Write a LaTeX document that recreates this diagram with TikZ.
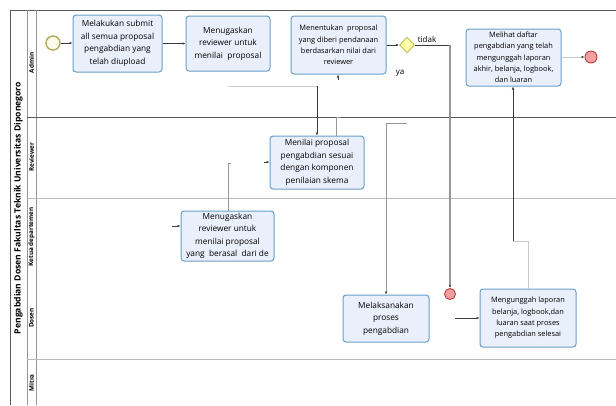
\documentclass[tikz,border=0pt]{standalone}
\usepackage{fontspec}
\setmainfont{Open Sans}
\usetikzlibrary{arrows.meta,shapes.geometric}
\definecolor{taskfill}{RGB}{234,239,252}
\definecolor{taskdraw}{RGB}{105,160,200}
\definecolor{poolline}{RGB}{90,90,90}
\definecolor{laneline}{RGB}{185,185,185}
\definecolor{conndark}{RGB}{60,60,60}
\definecolor{connmed}{RGB}{150,150,150}
\definecolor{connlight}{RGB}{200,200,200}
\definecolor{startdraw}{RGB}{175,170,95}
\definecolor{startfill}{RGB}{252,252,235}
\definecolor{gwfill}{RGB}{255,255,170}
\definecolor{gwdraw}{RGB}{195,190,90}
\definecolor{endfill}{RGB}{240,160,160}
\definecolor{enddraw}{RGB}{190,60,60}
\begin{document}
\begin{tikzpicture}[x=1pt,y=-1pt,
  taskbox/.style={draw=taskdraw, fill=taskfill, rounded corners=3pt, line width=1pt,
    align=center, inner sep=1pt, font=\fontsize{8.3}{12.5}\selectfont},
  smalltask/.style={taskbox, font=\fontsize{7.4}{11.3}\selectfont},
  conn/.style={draw=conndark, line width=0.6pt},
  medconn/.style={draw=connmed, line width=0.7pt},
  lightconn/.style={draw=connlight, line width=0.8pt},
  tip/.style={-{Latex[length=3pt,width=2.6pt,color=conndark]}},
  lanelabel/.style={rotate=90, font=\bfseries\fontsize{6.3}{7}\selectfont, inner sep=0pt},
  lbl/.style={font=\fontsize{8}{10}\selectfont, inner sep=0pt}
]
\useasboundingbox (0,0) rectangle (616,405);
% pool and lanes
\draw[poolline, line width=0.8pt] (616,10) -- (10,10) -- (10,405);
\draw[connmed, line width=0.7pt] (27,10) -- (27,405);
\draw[connmed, line width=0.7pt] (36,10) -- (36,405);
\draw[poolline, line width=0.7pt] (27,117) -- (616,117);
\draw[laneline, line width=0.9pt] (27,198) -- (616,198);
\draw[laneline, line width=0.9pt] (27,359) -- (616,359);
\node[rotate=90, font=\bfseries\fontsize{8.6}{10}\selectfont, inner sep=0pt] (title) at (18.5,208) {Pengabdian Dosen Fakultas Teknik Universitas Diponegoro};
\node[lanelabel] (lAdmin) at (31.5,63) {Admin};
\node[lanelabel] (lRev) at (31.5,157) {Reviewer};
\node[lanelabel] (lKetua) at (31.5,237) {Ketua departemen};
\node[lanelabel] (lDosen) at (31.5,318) {Dosen};
\node[lanelabel] (lMitra) at (31.5,383) {Mitra};
% events and gateway
\node[circle, draw=startdraw, fill=startfill, line width=1.4pt, minimum size=14pt, inner sep=0pt] (start) at (53,43) {};
\node[diamond, draw=gwdraw, fill=gwfill, line width=0.9pt, minimum width=15pt, minimum height=16pt, inner sep=0pt] (gw) at (407,45) {};
\node[circle, draw=enddraw, fill=endfill, line width=0.9pt, minimum size=12pt, inner sep=0pt] (end1) at (591,57) {};
\node[circle, draw=enddraw, fill=endfill, line width=0.9pt, minimum size=11pt, inner sep=0pt] (end2) at (450,294) {};
% tasks
\node[taskbox, minimum width=89pt, minimum height=57pt] (t1) at (117.5,43.5) {Melakukan submit\\all semua proposal\\pengabdian yang\\telah diupload};
\node[taskbox, minimum width=84pt, minimum height=55pt] (t2) at (228,43.5) {Menugaskan\\reviewer untuk\\menilai~ proposal};
\node[smalltask, minimum width=95pt, minimum height=58pt] (t3) at (338.5,45) {Menentukan~ proposal\\yang diberi pendanaan\\berdasarkan nilai dari\\reviewer};
\node[smalltask, minimum width=95pt, minimum height=57pt] (mh) at (513.5,57.5) {Melihat daftar\\pengabdian yang telah\\mengunggah laporan\\akhir, belanja, logbook,\\dan luaran};
\node[taskbox, minimum width=94pt, minimum height=53pt] (rev) at (317,162.5) {Menilai proposal\\pengabdian sesuai\\dengan komponen\\penilaian skema};
\node[taskbox, minimum width=93pt, minimum height=50pt] (kd) at (227.5,236) {Menugaskan\\reviewer untuk\\menilai proposal\\yang~ berasal~ dari de};
\node[taskbox, minimum width=86pt, minimum height=47pt] (mp) at (386,318.5) {Melaksanakan\\proses\\pengabdian};
\node[smalltask, minimum width=96pt, minimum height=58pt] (mu) at (528,318) {Mengunggah laporan\\belanja, logbook,dan\\luaran saat proses\\pengabdian selesai};
% labels
\node[lbl] (tidak) at (427,39) {tidak};
\node[lbl] (ya) at (400,73) {ya};
% coordinates for free ends
\coordinate (a1) at (228,86);
\coordinate (b1) at (336,117);
\coordinate (b2) at (338,80);
\coordinate (c1) at (228,163);
\coordinate (c2) at (264,162);
\coordinate (d1) at (172,226);
\coordinate (e1) at (407,123);
\coordinate (f1) at (455,318);
\coordinate (g1) at (513,241);
% connectors
\draw[conn, tip] (start.east) -- (start.east -| t1.west);
\draw[conn, tip] (t1.east) -- (t1.east -| t2.west);
\draw[lightconn] (a1) -- (a1 -| rev.north);
\draw[conn, tip] (a1 -| rev.north) -- (rev.north);
\draw[medconn] (rev.north -| b1) -- (b1) -- ++(4,0);
\draw[conn, tip] (b2) -- (b2 |- t3.south);
\draw[medconn] (kd.north -| c1) -- (c1) -- ++(3,0);
\draw[conn, tip] (c2) -- (c2 -| rev.west);
\draw[conn, tip] (d1) -- (d1 -| kd.west);
\draw[conn, tip] (t3.east |- gw.west) -- (gw.west);
\draw[conn] (gw.east) -- (gw.east -| end2.north);
\draw[connmed, line width=1.3pt, tip] (gw.east -| end2.north) -- (end2.north);
\draw[medconn] (e1) -- (e1 -| mp.north);
\draw[medconn, tip] (e1 -| mp.north) -- (mp.north);
\draw[conn, tip] (f1) -- (f1 -| mu.west);
\draw[lightconn] (mu.north) -- (mu.north |- g1) -- (g1);
\draw[conn, line width=0.8pt, tip] (g1) -- (g1 |- mh.south);
\draw[lightconn, tip] (mh.east |- end1.west) -- (end1.west);
\end{tikzpicture}
\end{document}
